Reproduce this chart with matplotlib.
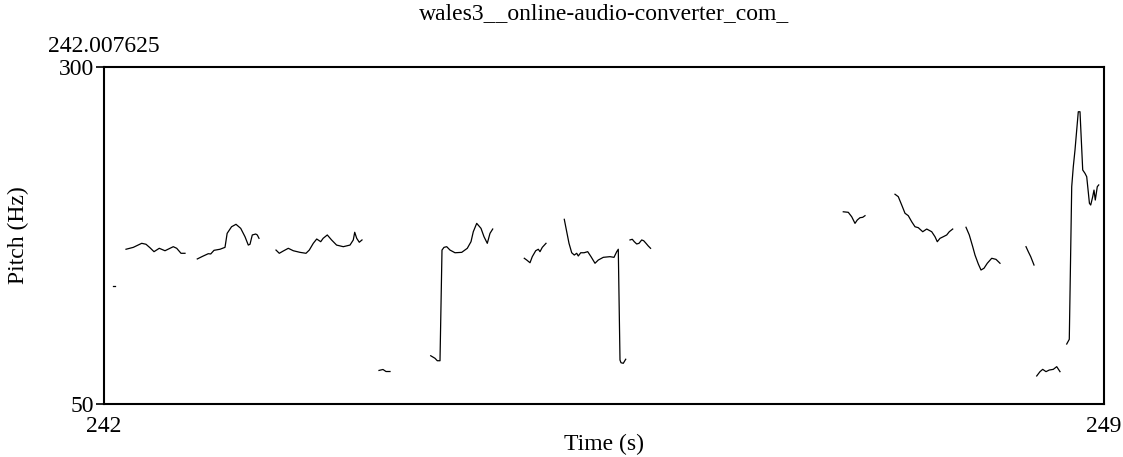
import matplotlib
matplotlib.use("Agg")
import matplotlib.pyplot as plt

plt.rcParams['font.family'] = ['Liberation Serif', 'DejaVu Serif']

title = "wales3__online-audio-converter_com_"
start_label = "242.007625"
x_range = [242, 249]
y_range = [50, 300]

# pitch contour pieces (time s, pitch Hz)
t0 = [242.064, 242.077]
f0 = [137.5, 137.5]

t1 = [242.154, 242.205, 242.264, 242.294, 242.322, 242.350, 242.387, 242.427,
      242.485, 242.509, 242.539, 242.567]
f1 = [164.8, 166.2, 169.2, 168.5, 165.9, 163.0, 165.5, 163.7, 166.7, 165.5, 161.8, 161.8]

t2 = [242.653, 242.691, 242.730, 242.747, 242.770, 242.812, 242.847, 242.862, 242.893,
      242.924, 242.957, 242.987, 243.010, 243.022, 243.038, 243.062, 243.073, 243.085]
f2 = [157.6, 159.6, 161.5, 161.3, 164.0, 164.8, 166.2, 176.6, 181.5, 183.3, 180.3,
      174.1, 167.9, 168.5, 175.4, 176.1, 175.4, 172.9]

t3 = [243.204, 243.227, 243.255, 243.290, 243.325, 243.372, 243.414, 243.437, 243.465,
      243.489, 243.517, 243.534, 243.563, 243.593, 243.628, 243.675, 243.722, 243.745,
      243.755, 243.769, 243.787, 243.806]
f3 = [164.2, 161.8, 163.5, 165.5, 163.7, 162.5, 161.8, 164.2, 169.2, 172.4, 170.4,
      172.9, 175.4, 171.7, 167.9, 166.7, 167.9, 171.7, 177.4, 172.9, 170.0, 171.7]

t4 = [243.925, 243.953, 243.974, 244.002]
f4 = [74.9, 75.6, 74.1, 74.1]

t5 = [244.287, 244.317, 244.333, 244.352, 244.366, 244.380, 244.399, 244.422, 244.457,
      244.504, 244.543, 244.569, 244.585, 244.609, 244.639, 244.660, 244.683, 244.702,
      244.721]
f5 = [85.8, 83.9, 82.1, 82.1, 164.2, 166.2, 166.7, 164.2, 162.2, 162.5, 165.5, 170.4,
      177.8, 184.0, 180.3, 174.1, 169.2, 176.6, 179.8]

t6 = [244.942, 244.959, 244.982, 244.998, 245.022, 245.040, 245.052, 245.068, 245.094]
f6 = [158.1, 156.8, 154.8, 159.3, 163.7, 164.8, 163.0, 166.2, 169.2]

t7 = [245.222, 245.239, 245.255, 245.274, 245.292, 245.309, 245.320, 245.337, 245.360,
      245.386, 245.409, 245.437, 245.460, 245.495, 245.542, 245.570, 245.589, 245.600,
      245.612, 245.619, 245.635, 245.652]
f7 = [187.0, 177.8, 169.2, 162.2, 160.5, 161.8, 159.8, 162.2, 162.2, 163.0, 159.3,
      154.4, 156.8, 158.8, 159.3, 158.8, 163.0, 164.8, 82.6, 80.6, 80.2, 83.2]

t8 = [245.682, 245.698, 245.712, 245.729, 245.745, 245.764, 245.778, 245.794, 245.810, 245.826]
f8 = [171.7, 172.2, 170.4, 168.7, 169.2, 171.7, 171.1, 169.2, 167.2, 165.5]

t9 = [247.175, 247.210, 247.234, 247.257, 247.273, 247.292, 247.311, 247.327]
f9 = [192.6, 192.2, 188.9, 184.0, 186.5, 188.2, 188.5, 189.7]

t10 = [247.537, 247.560, 247.584, 247.607, 247.630, 247.654, 247.677, 247.700, 247.731,
       247.759, 247.794, 247.817, 247.833, 247.852, 247.875, 247.899, 247.917, 247.941]
f10 = [205.6, 203.8, 197.6, 191.5, 189.7, 185.2, 181.5, 180.8, 177.8, 179.8, 177.8,
       174.1, 170.4, 172.9, 174.1, 175.4, 177.8, 179.8]

t11 = [248.034, 248.057, 248.081, 248.097, 248.120, 248.139, 248.160, 248.183, 248.214,
       248.244, 248.272]
f11 = [181.1, 175.4, 166.7, 160.5, 153.9, 149.4, 150.7, 154.4, 158.1, 157.3, 154.4]

t12 = [248.454, 248.470, 248.487, 248.510]
f12 = [166.7, 163.0, 159.3, 153.1]

t13 = [248.529, 248.552, 248.571, 248.594, 248.617, 248.645, 248.669, 248.692]
f13 = [70.8, 74.0, 75.7, 74.0, 75.2, 75.7, 77.7, 74.0]

t14 = [248.739, 248.757, 248.774, 248.785, 248.797, 248.809, 248.820, 248.832, 248.839,
       248.851, 248.867, 248.879, 248.898, 248.907, 248.921, 248.930, 248.939, 248.953,
       248.963]
f14 = [94.5, 98.0, 211.2, 226.0, 238.4, 253.3, 266.8, 266.8, 250.8, 223.6, 221.1,
       218.6, 198.9, 197.6, 203.8, 208.7, 201.3, 211.2, 212.5]

pieces = [(t0, f0), (t1, f1), (t2, f2), (t3, f3), (t4, f4), (t5, f5), (t6, f6), (t7, f7),
          (t8, f8), (t9, f9), (t10, f10), (t11, f11), (t12, f12), (t13, f13), (t14, f14)]

fig = plt.figure(figsize=(11.23, 4.57), dpi=100)
ax = fig.add_axes([104 / 1123, 1 - 404 / 457, 1000 / 1123, 337 / 457])

for t, f in pieces:
    ax.plot(t, f, color='black', linewidth=0.9)

ax.set_xlim(x_range)
ax.set_ylim(y_range)
ax.set_xticks(x_range)
ax.set_yticks(y_range)
ax.tick_params(axis='y', direction='out', length=6, width=1.2, labelsize=17, pad=1)
ax.tick_params(axis='x', length=0, labelsize=17, pad=9)
for s in ax.spines.values():
    s.set_linewidth(1.5)

ax.set_xlabel("Time (s)", fontsize=17, va='center')
ax.xaxis.set_label_coords(0.5, -40 / 337)
ax.set_ylabel("Pitch (Hz)", fontsize=17, va='center')
ax.yaxis.set_label_coords(-0.086, 0.5)
ax.text(0, 1 + 15 / 337, start_label, transform=ax.transAxes, ha='center', va='baseline',
        fontsize=17)
fig.text(604 / 1123, 1 - 14 / 457, title, ha='center', va='center', fontsize=17)

fig.savefig("out.png", dpi=100)
